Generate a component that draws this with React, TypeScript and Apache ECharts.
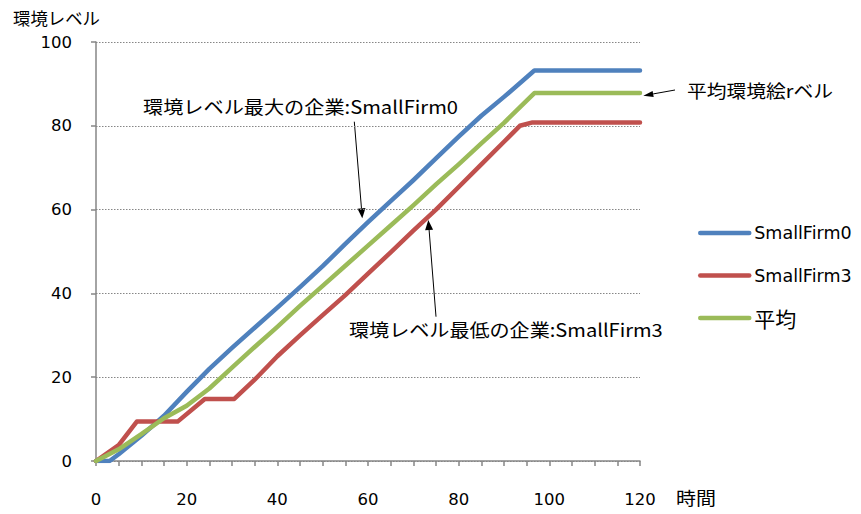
import React, { useEffect, useRef } from "react";
import * as echarts from "echarts";

// ---- data ----
const firm0Time = [0, 3, 5, 10, 15, 20, 25, 30, 35, 40, 45, 50, 55, 60, 65, 70, 75, 80, 85, 90, 95, 96.7, 120];
const firm0Level = [0, 0, 1.6, 6, 10.8, 16.5, 22, 27, 31.8, 36.6, 41.5, 46.5, 51.8, 57, 62, 67, 72.2, 77.4, 82.4, 86.9, 91.6, 93.2, 93.2];

const firm3Time = [0, 5, 9, 18, 24, 30.5, 35, 40, 45, 50, 55, 60, 65, 70, 75, 80, 85, 90, 93.5, 96.3, 120];
const firm3Level = [0, 3.8, 9.4, 9.4, 14.8, 14.8, 19.4, 25, 30, 34.8, 39.6, 44.7, 49.8, 55, 60, 65.4, 70.8, 76.2, 80, 80.8, 80.8];

const avgTime = [0, 5, 10, 15, 20, 25, 30, 35, 40, 45, 50, 55, 60, 65, 70, 75, 80, 85, 90, 95, 96.7, 120];
const avgLevel = [0, 2.8, 6.4, 10.2, 13.2, 17.3, 22.3, 27.2, 32, 37, 41.8, 46.6, 51.4, 56.2, 61, 66, 70.8, 75.8, 80.7, 86, 87.8, 87.8];

const seriesNames = ["SmallFirm0", "SmallFirm3", "平均"];
const xTicks = { min: 0, max: 120, interval: 20 };
const yTicks = { min: 0, max: 100, interval: 20 };

const yAxisTitle = "環境レベル";
const xAxisTitle = "時間";
const noteMax = "環境レベル最大の企業:SmallFirm0";
const noteMin = "環境レベル最低の企業:SmallFirm3";
const noteAvg = "平均環境絵rベル";

const pair = (ts: number[], vs: number[]) => ts.map((t, i) => [t, vs[i]]);

const JP = "'Noto Sans CJK JP', sans-serif";
const NUM = "'DejaVu Sans', sans-serif";

function measure(text: string, size: number, family: string) {
  const c = document.createElement("canvas").getContext("2d");
  if (!c) return text.length * size;
  c.font = `${size}px ${family}`;
  return c.measureText(text).width || text.length * size;
}

function fitText(text: string, left: number, cy: number, width: number, size: number) {
  const w = measure(text, size, JP);
  return {
    type: "text",
    x: left,
    y: cy,
    scaleX: width / w,
    style: { text, fontSize: size, fontFamily: JP, fill: "#000", align: "left", verticalAlign: "middle" },
  };
}

function arrow(x1: number, y1: number, x2: number, y2: number, L: number, W: number) {
  const dx = x2 - x1, dy = y2 - y1;
  const len = Math.hypot(dx, dy);
  const ux = dx / len, uy = dy / len;
  const nx = -uy, ny = ux;
  const bx = x2 - ux * L, by = y2 - uy * L;
  return [
    { type: "line", shape: { x1, y1, x2: bx, y2: by }, style: { stroke: "#000", lineWidth: 1 } },
    {
      type: "polygon",
      shape: { points: [[x2, y2], [bx + nx * W / 2, by + ny * W / 2], [bx - nx * W / 2, by - ny * W / 2]] },
      style: { fill: "#000" },
    },
  ];
}

export default function App() {
  const ref = useRef<HTMLDivElement>(null);
  useEffect(() => {
    document.body.style.margin = "0";
    if (!ref.current) return;
    const chart = echarts.init(ref.current, null, { renderer: "svg" });
    const axisGray = "#868686";
    const option: any = {
      animation: false,
      backgroundColor: "#fff",
      grid: { left: 96, right: 221, top: 42, bottom: 53, outerBoundsMode: "none" },
      xAxis: {
        type: "value",
        min: xTicks.min,
        max: xTicks.max,
        interval: xTicks.interval,
        axisLine: { show: true, lineStyle: { color: axisGray, width: 1.5 } },
        axisTick: { show: true, inside: false, length: 5, lineStyle: { color: axisGray, width: 1.5 } },
        minorTick: { show: true, splitNumber: 4, length: 5, lineStyle: { color: axisGray, width: 1.5 } },
        splitLine: { show: false },
        axisLabel: { margin: 30, fontSize: 16.5, fontFamily: NUM, color: "#000" },
      },
      yAxis: {
        type: "value",
        min: yTicks.min,
        max: yTicks.max,
        interval: yTicks.interval,
        axisLine: { show: true, lineStyle: { color: axisGray, width: 1.5 } },
        axisTick: { show: true, inside: false, length: 5, lineStyle: { color: axisGray, width: 1.5 } },
        splitLine: { show: true, lineStyle: { color: axisGray, type: [1.5, 1.5], width: 1 } },
        axisLabel: { margin: 24, fontSize: 16.5, fontFamily: NUM, color: "#000" },
      },
      legend: {
        data: seriesNames,
        orient: "vertical",
        left: 698,
        top: 222,
        padding: 0,
        itemWidth: 49,
        itemHeight: 14,
        itemGap: 20.5,
        itemStyle: { opacity: 0 },
        lineStyle: { width: 4.5 },
        textStyle: {
          fontSize: 17.5,
          fontFamily: NUM,
          color: "#000",
          lineHeight: 22,
          rich: { cjk: { fontSize: 21, fontFamily: JP, color: "#000", lineHeight: 22 } },
        },
        formatter: (name: string) => (/^[\x00-\x7f]+$/.test(name) ? name : `{cjk|${name}}`),
      },
      series: [
        { name: seriesNames[0], data: pair(firm0Time, firm0Level), color: "#4F81BD" },
        { name: seriesNames[1], data: pair(firm3Time, firm3Level), color: "#C0504D" },
        { name: seriesNames[2], data: pair(avgTime, avgLevel), color: "#9BBB59" },
      ].map((s) => ({
        type: "line",
        name: s.name,
        data: s.data,
        symbol: "none",
        showSymbol: false,
        itemStyle: { color: s.color },
        lineStyle: { color: s.color, width: 4.5, cap: "round", join: "round" },
      })),
      graphic: [
        fitText(yAxisTitle, 13, 17.5, 87, 17),
        fitText(xAxisTitle, 676, 497, 40, 18),
        fitText(noteMax, 143, 106.5, 315, 18),
        fitText(noteMin, 349, 328.5, 314, 18),
        fitText(noteAvg, 687, 90, 146, 18),
        ...arrow(354.3, 121.7, 362.3, 218.3, 10, 8),
        ...arrow(436, 316.7, 428.3, 220, 10, 8),
        ...arrow(675, 90, 643.3, 95.7, 10, 6),
      ],
    };
    chart.setOption(option);
    return () => chart.dispose();
  }, []);
  return <div ref={ref} style={{ width: 861, height: 514 }} />;
}
